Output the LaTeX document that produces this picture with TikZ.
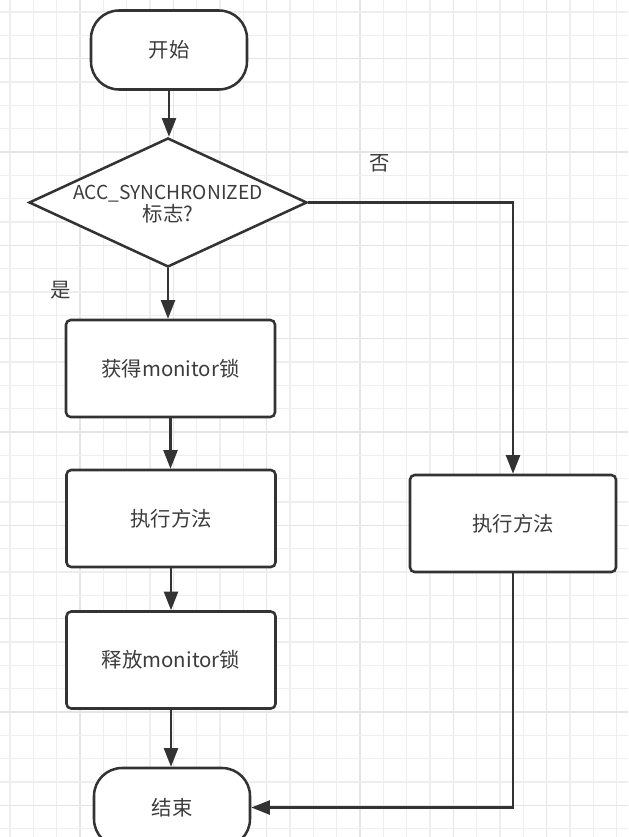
\documentclass[tikz,border=0pt]{standalone}
\usepackage{fontspec}
\setmainfont{Noto Sans CJK SC}
\usetikzlibrary{shapes.geometric,arrows.meta}
\definecolor{ink}{RGB}{51,51,51}
\definecolor{txt}{RGB}{60,60,60}
\definecolor{gridminor}{RGB}{238,238,238}
\definecolor{gridmajor}{RGB}{229,229,229}
\tikzset{
  base/.style={draw=ink, line width=1.9pt, fill=white, text=txt, inner sep=0pt,
    font=\fontsize{15.3pt}{18pt}\selectfont, align=center},
  term/.style={base, rounded corners=21pt, minimum width=117pt, minimum height=59.25pt},
  procbox/.style={base, rounded corners=3.5pt, minimum width=156.75pt, minimum height=72.75pt},
  decide/.style={base, diamond, minimum width=208.5pt, minimum height=96.75pt},
  lbl/.style={text=txt, font=\fontsize{15.3pt}{18pt}\selectfont, inner sep=0pt},
  arr/.style={draw=ink, line width=1.9pt, -{Triangle[length=14pt,width=10.5pt]}}
}
\begin{document}
\begin{tikzpicture}[x=0.75pt,y=-0.75pt]
\useasboundingbox (0,0) rectangle (628,837);
\fill[white] (0,0) rectangle (628,837);
% grid
\foreach \k in {0,...,26}{
  \pgfmathsetmacro{\xx}{10+23.3333*\k}
  \pgfmathtruncatemacro{\m}{mod(\k,4)}
  \ifnum\m=3 \draw[gridmajor,line width=0.9pt] (\xx,0) -- (\xx,837);
  \else \draw[gridminor,line width=0.8pt] (\xx,0) -- (\xx,837); \fi
}
\foreach \k in {0,...,35}{
  \pgfmathsetmacro{\yy}{12+23.3333*\k}
  \pgfmathtruncatemacro{\m}{mod(\k,4)}
  \ifnum\m=2 \draw[gridmajor,line width=0.9pt] (0,\yy) -- (628,\yy);
  \else \draw[gridminor,line width=0.8pt] (0,\yy) -- (628,\yy); \fi
}
% nodes
\node[term] (start) at (169,50) {开始};
\node[decide] (dec) at (168,202.5) {};
\node[lbl, align=center] (dectext) at (168,204) {{\fontsize{14.4pt}{18pt}\selectfont ACC\_SYNCHRONIZED}\\[-1pt]标志?};
\node[procbox] (b1) at (170.5,368.5) {获得monitor锁};
\node[procbox] (b2) at (171,518.5) {执行方法};
\node[procbox] (b3) at (171,660) {释放monitor锁};
\node[term] (end) at (172,807.5) {结束};
\node[procbox, minimum width=154.5pt] (rb) at (513,523.5) {执行方法};
\node[lbl] (yes) at (61,290) {是};
\node[lbl] (no) at (380,163) {否};
% connectors
\draw[arr] (start.south) -- (start.south |- dec.north);
\draw[arr] (dec.south) -- (dec.south |- b1.north);
\draw[arr] (b1.south) -- (b1.south |- b2.north);
\draw[arr] (b2.south) -- (b2.south |- b3.north);
\draw[arr] (b3.south) -- (b3.south |- end.north);
\draw[arr] (dec.east) -| (rb.north);
\draw[arr] (rb.south) |- (end.east);
\end{tikzpicture}
\end{document}
